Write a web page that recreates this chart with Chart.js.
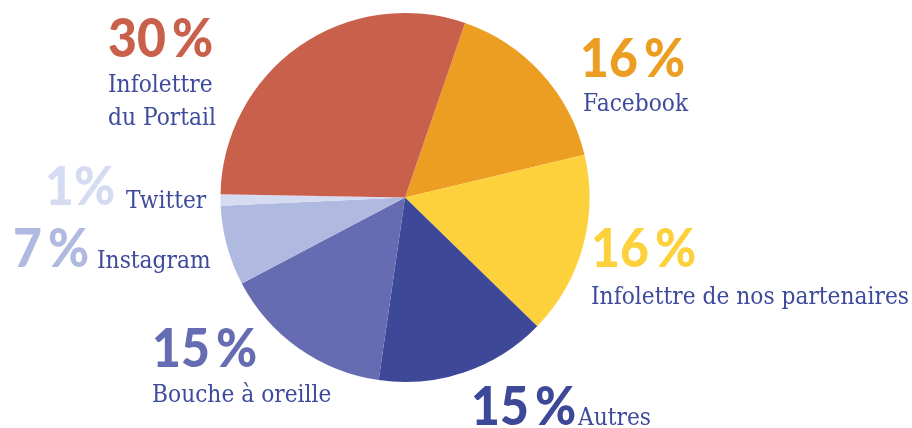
<!DOCTYPE html>
<html>
<head>
<meta charset="utf-8">
<script src="https://cdn.jsdelivr.net/npm/chart.js@4.4.1/dist/chart.umd.min.js"></script>
<style>
  html, body { margin: 0; padding: 0; background: #fff; }
  #wrap { width: 912px; height: 428px; position: relative; }
</style>
</head>
<body>
<div id="wrap"><canvas id="pie"></canvas></div>
<script>
// data
const categories = ['Facebook', 'Infolettre de nos partenaires', 'Autres', 'Bouche à oreille', 'Instagram', 'Twitter', 'Infolettre du Portail'];
const shares = [16, 16, 15, 15, 7, 1, 30];
const pctLabels = ['16\u2009%', '16\u2009%', '15\u2009%', '15\u2009%', '7\u2009%', '1%', '30\u2009%'];
const sliceColors = ['#EC9E23', '#FDD13B', '#3D4898', '#666CB1', '#B0B9DF', '#D5DBF0', '#C9604B'];

// where each label block goes: [pct x, pct baseline, text x, text baseline]
const labelLayout = [
    [580, 77, 583, 111],
    [591, 267, 591, 304],
    [471, 425, 578, 425],
    [152, 367, 152, 402],
    [13, 267, 97, 268],
    [45, 205, 126, 208],
    [108, 57, 108, 92]
];
const textColor = '#3E4A9B';

function fitText(ctx, str, x, y, w) {
    // squeeze/stretch horizontally so labels keep the reference widths
    ctx.save();
    ctx.translate(x, y);
    ctx.scale(w, 1);
    ctx.fillText(str, 0, 0);
    ctx.restore();
}

const labelPlugin = {
    id: 'sideLabels',
    afterDraw(chart) {
        const ctx = chart.ctx;
        ctx.save();
        ctx.textAlign = 'left';
        ctx.textBaseline = 'alphabetic';
        ctx.font = '24px "DejaVu Serif"';
        const sx = 318 / ctx.measureText('Infolettre de nos partenaires').width;
        categories.forEach((cat, i) => {
            const [px, py, tx, ty] = labelLayout[i];
            ctx.fillStyle = sliceColors[i];
            ctx.font = '900 53px Lato';
            fitText(ctx, pctLabels[i], px, py, 0.94);
            ctx.fillStyle = textColor;
            ctx.font = '24px "DejaVu Serif"';
            if (cat === 'Infolettre du Portail') {
                fitText(ctx, 'Infolettre', tx, ty, sx);
                fitText(ctx, 'du Portail', tx, ty + 33, sx);
            } else {
                fitText(ctx, cat, tx, ty, sx);
            }
        });
        ctx.restore();
    }
};

new Chart(document.getElementById('pie'), {
    type: 'pie',
    data: {
        labels: categories,
        datasets: [{
            data: shares,
            backgroundColor: sliceColors,
            borderWidth: 0
        }]
    },
    options: {
        responsive: true,
        maintainAspectRatio: false,
        animation: false,
        rotation: 19,
        layout: { padding: { left: 220, right: 322, top: 13, bottom: 46 } },
        plugins: {
            legend: { display: false },
            tooltip: { enabled: false }
        }
    },
    plugins: [labelPlugin]
});
</script>
</body>
</html>
